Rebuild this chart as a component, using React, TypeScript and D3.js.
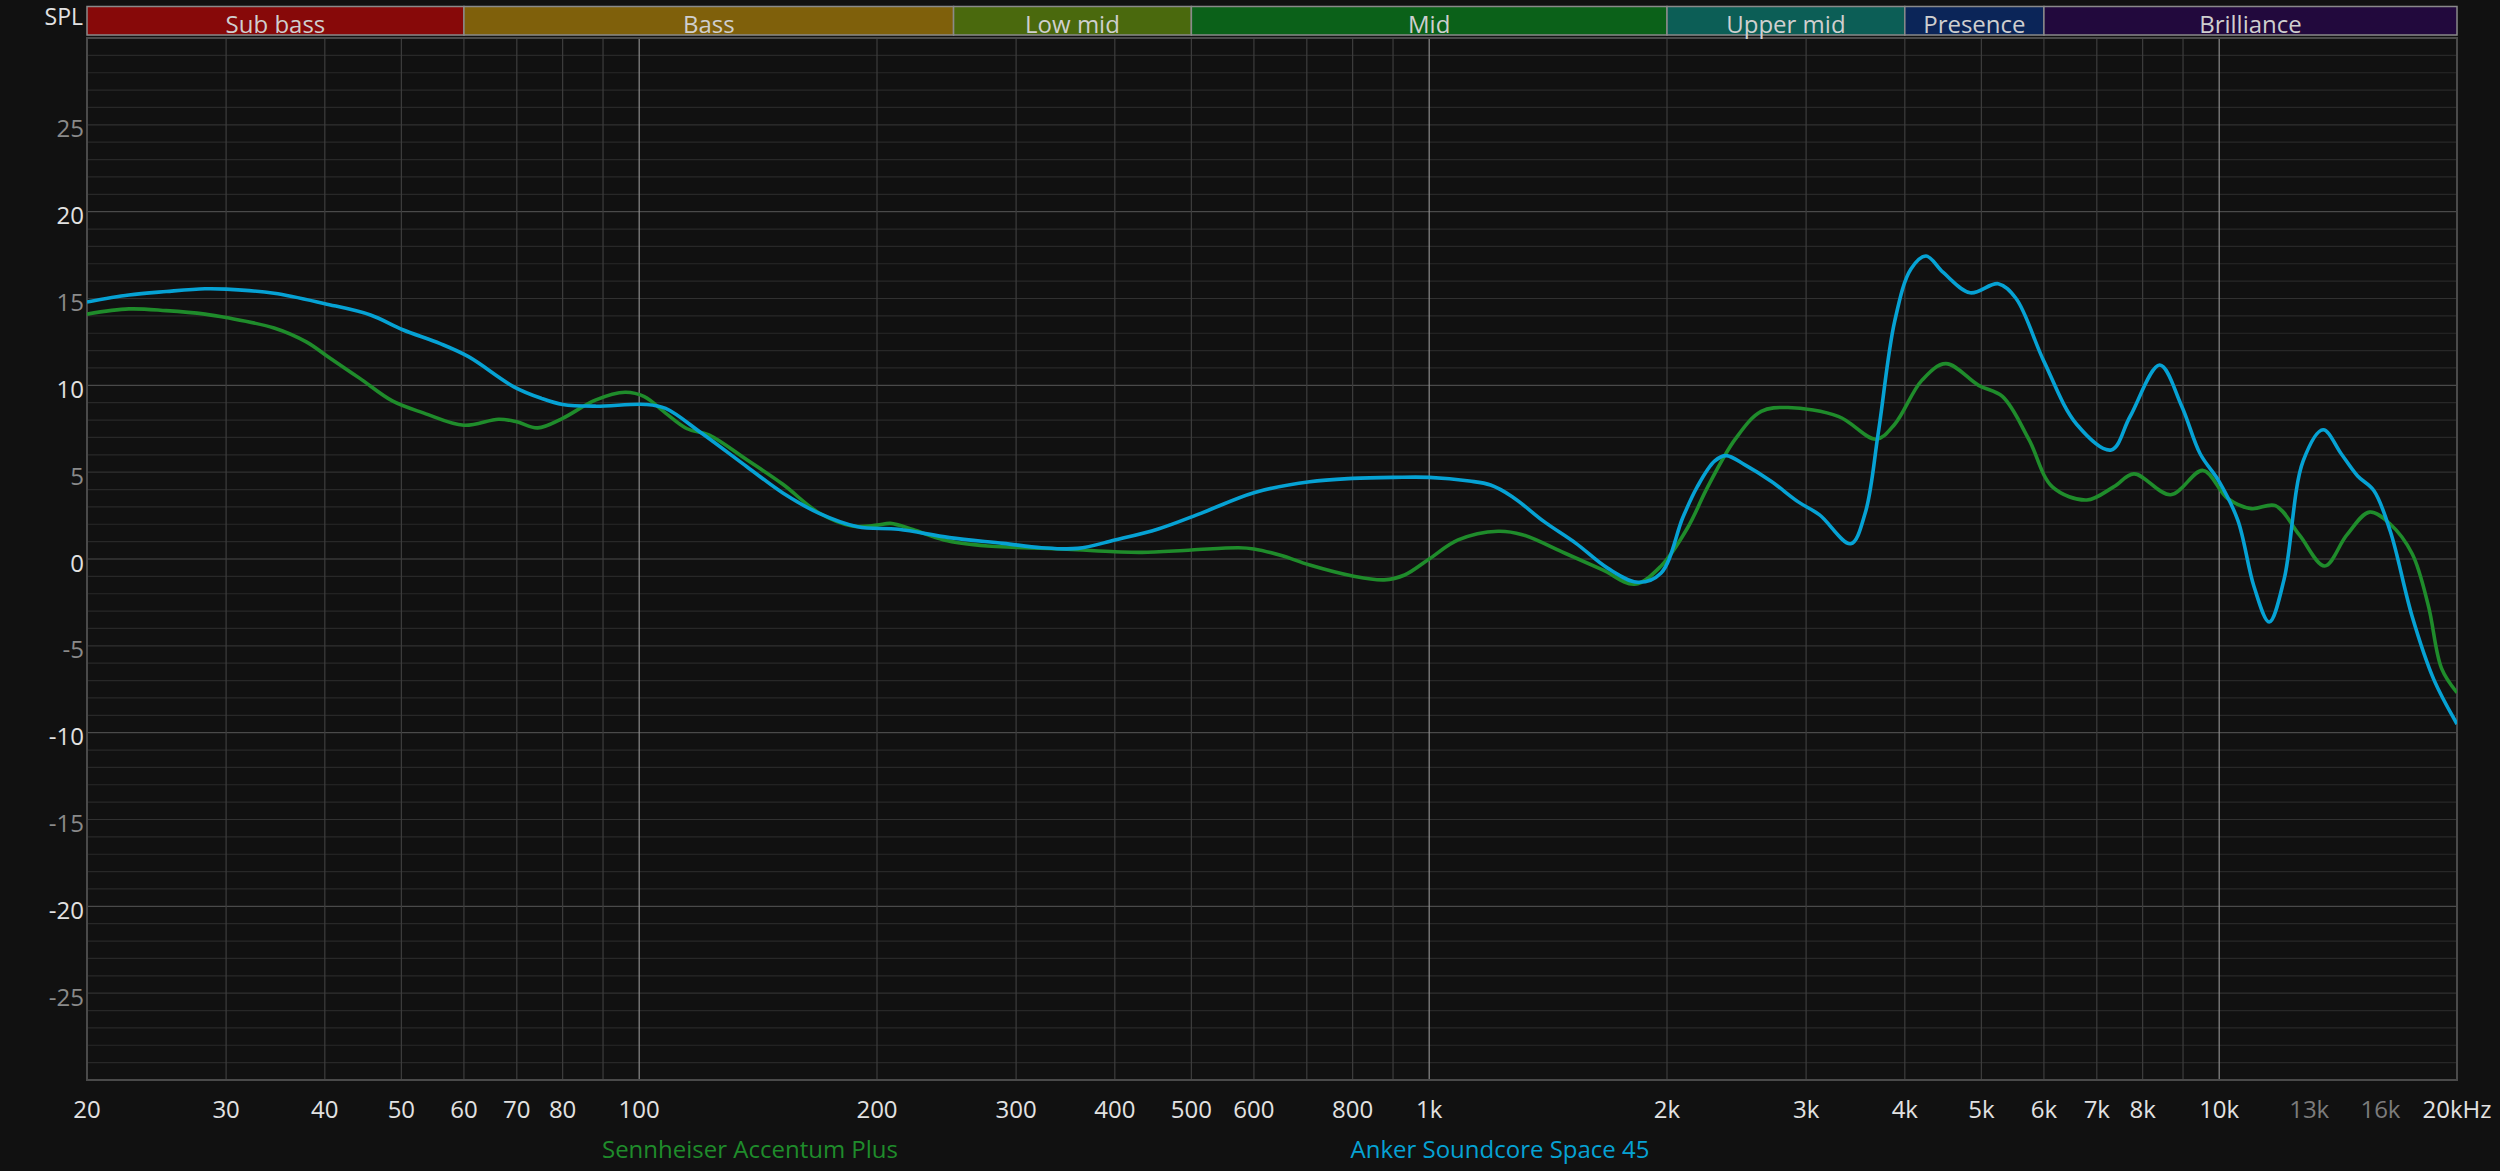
import React from "react";
import * as d3 from "d3";

const W = 2500;
const H = 1171;

const bandNames = ["Sub bass", "Bass", "Low mid", "Mid", "Upper mid", "Presence", "Brilliance"];
const bandEdges = [20, 60, 250, 500, 2000, 4000, 6000, 20000];
const bandColors = ["#870909", "#7f600b", "#4a690d", "#0b6119", "#0c5e56", "#0b2558", "#22093d"];

const xTickValues = [20, 30, 40, 50, 60, 70, 80, 100, 200, 300, 400, 500, 600, 800, 1000, 2000, 3000, 4000, 5000, 6000, 7000, 8000, 10000, 13000, 16000, 20000];
const xTickLabels = ["20", "30", "40", "50", "60", "70", "80", "100", "200", "300", "400", "500", "600", "800", "1k", "2k", "3k", "4k", "5k", "6k", "7k", "8k", "10k", "13k", "16k", "20kHz"];
const xDimTicks = ["13k", "16k"];

const yTickValues = [25, 20, 15, 10, 5, 0, -5, -10, -15, -20, -25];

const seriesNames = ["Sennheiser Accentum Plus", "Anker Soundcore Space 45"];
const seriesColors = ["#1f8c2b", "#06a2d4"];

const sennFreq = [20, 22.6, 25.2, 28.2, 30, 34.5, 37.9, 40.5, 44.3, 48.7, 53.4, 60, 66.4, 70, 74.4, 80, 88, 96, 101.5, 108, 115, 122.5, 137, 152, 169, 186, 200, 208, 222, 243, 276, 300, 348, 400, 433, 500, 574, 600, 650, 706, 800, 877, 931, 1000, 1088, 1222, 1312, 1486, 1658, 1820, 1966, 2124, 2252, 2440, 2632, 2846, 3300, 3680, 3884, 4206, 4508, 4960, 5316, 5740, 6150, 6800, 7350, 7800, 8680, 9540, 10240, 10980, 11780, 12640, 13600, 14500, 15500, 16470, 17550, 18400, 19120, 20000];
const sennDb = [14.1, 14.4, 14.3, 14.1, 13.9, 13.3, 12.5, 11.6, 10.4, 9.1, 8.4, 7.7, 8.05, 7.9, 7.55, 8.1, 9.15, 9.6, 9.35, 8.4, 7.5, 7.15, 5.7, 4.3, 2.65, 1.9, 1.95, 2.05, 1.7, 1.1, 0.75, 0.67, 0.56, 0.42, 0.38, 0.52, 0.65, 0.58, 0.2, -0.35, -0.98, -1.2, -0.92, 0, 1.1, 1.6, 1.4, 0.33, -0.63, -1.45, -0.4, 1.8, 4.15, 6.9, 8.5, 8.72, 8.2, 6.9, 7.76, 10.3, 11.25, 10.0, 9.36, 6.9, 4.15, 3.4, 4.15, 4.9, 3.7, 5.1, 3.5, 2.9, 3.07, 1.37, -0.4, 1.37, 2.7, 2.0, 0.3, -2.7, -6.3, -7.7];

const ankerFreq = [20, 22.6, 25.2, 28.2, 30, 34.5, 40, 45.7, 50.2, 56, 60.8, 69.5, 75.2, 80, 88, 102, 108, 120, 137, 152, 169, 189, 213, 247, 289, 323, 359, 400, 454, 514, 600, 706, 800, 904, 1000, 1124, 1196, 1274, 1398, 1534, 1684, 1838, 1966, 2095, 2184, 2297, 2376, 2510, 2712, 2932, 3120, 3416, 3564, 3704, 3884, 4072, 4256, 4474, 4840, 5252, 5532, 6000, 6600, 7300, 7710, 8410, 8960, 9460, 10000, 10560, 11070, 11570, 12080, 12770, 13540, 14270, 14970, 15700, 16470, 17550, 18690, 20000];
const ankerDb = [14.8, 15.2, 15.4, 15.56, 15.54, 15.3, 14.7, 14.05, 13.2, 12.4, 11.65, 9.9, 9.25, 8.9, 8.8, 8.9, 8.67, 7.24, 5.3, 3.8, 2.63, 1.86, 1.71, 1.23, 0.9, 0.65, 0.61, 1.09, 1.73, 2.63, 3.82, 4.45, 4.64, 4.7, 4.7, 4.49, 4.26, 3.59, 2.15, 0.9, -0.54, -1.34, -0.8, 2.4, 4.15, 5.63, 5.95, 5.42, 4.46, 3.29, 2.54, 0.88, 2.65, 7.33, 13.7, 16.7, 17.45, 16.5, 15.33, 15.85, 15.0, 11.38, 7.76, 6.28, 8.19, 11.17, 8.83, 6.06, 4.46, 2.22, -1.6, -3.63, -1.19, 5.63, 7.44, 6.06, 4.78, 3.93, 1.58, -3.31, -6.93, -9.5];

const FONT = "'Open Sans', 'Noto Sans', sans-serif";

export default function App() {
  const left = 87, right = 2457, top = 38, bottom = 1080;
  const x = d3.scaleLog().domain([20, 20000]).range([left, right]);
  const y = d3.scaleLinear().domain([-30, 30]).range([bottom, top]);

  const vLines: { f: number; color: string }[] = [];
  [10, 100, 1000, 10000].forEach((dec) => {
    for (let m = 1; m <= 9; m++) {
      const f = m * dec;
      if (f <= 20 || f >= 20000) continue;
      let color = "#3d3d3d";
      if (m === 1) color = "#8c8c8c";
      else if (f > 10000) color = "#2a2a2a";
      vLines.push({ f, color });
    }
  });

  const hLines: { v: number; color: string }[] = [];
  for (let v = -29; v <= 29; v++) {
    let color = "#282828";
    if (v % 10 === 0) color = "#4a4a4a";
    else if (v % 5 === 0) color = "#313131";
    hLines.push({ v, color });
  }

  const line = d3
    .line<[number, number]>()
    .x((d) => x(d[0]))
    .y((d) => y(d[1]))
    .curve(d3.curveCatmullRom.alpha(0.5));

  const sennPath = line(sennFreq.map((f, i) => [f, sennDb[i]] as [number, number])) || "";
  const ankerPath = line(ankerFreq.map((f, i) => [f, ankerDb[i]] as [number, number])) || "";

  return (
    <svg width={W} height={H} style={{ position: "absolute", left: 0, top: 0, display: "block" }} fontFamily={FONT}>
      <rect x={0} y={0} width={W} height={H} fill="#111111" />
      <defs>
        <clipPath id="plotClip">
          <rect x={left} y={top} width={right - left} height={bottom - top} />
        </clipPath>
      </defs>

      {hLines.map((h) => (
        <line key={"h" + h.v} x1={left} x2={right} y1={y(h.v)} y2={y(h.v)} stroke={h.color} strokeWidth={1.2} />
      ))}
      {vLines.map((v) => (
        <line key={"v" + v.f} x1={x(v.f)} x2={x(v.f)} y1={top} y2={bottom} stroke={v.color} strokeWidth={1.2} />
      ))}

      <rect x={left} y={top} width={right - left} height={bottom - top} fill="none" stroke="#4a4a4a" strokeWidth={2} />

      {bandNames.map((name, i) => {
        const x0 = x(bandEdges[i]);
        const x1 = x(bandEdges[i + 1]);
        return (
          <g key={name}>
            <rect x={x0} y={6.5} width={x1 - x0} height={28.5} fill={bandColors[i]} stroke="#8a8a8a" strokeWidth={1.5} />
            <text x={(x0 + x1) / 2} y={33} textAnchor="middle" fontSize={24} fill="#cfcfcf">
              {name}
            </text>
          </g>
        );
      })}

      <text x={83} y={25} textAnchor="end" fontSize={23} fill="#e2e2e2">SPL</text>

      {yTickValues.map((v) => (
        <text key={"yl" + v} x={84} y={y(v) + 12.5} textAnchor="end" fontSize={24} fill={v % 10 === 0 ? "#e2e2e2" : "#8a8a8a"}>
          {String(v)}
        </text>
      ))}

      {xTickValues.map((f, i) => (
        <text key={"xl" + f} x={x(f)} y={1118} textAnchor="middle" fontSize={24} fill={xDimTicks.includes(xTickLabels[i]) ? "#7c7c7c" : "#e2e2e2"}>
          {xTickLabels[i]}
        </text>
      ))}

      <g clipPath="url(#plotClip)">
        <path d={sennPath} fill="none" stroke={seriesColors[0]} strokeWidth={3.6} strokeLinejoin="round" />
        <path d={ankerPath} fill="none" stroke={seriesColors[1]} strokeWidth={3.6} strokeLinejoin="round" />
      </g>

      <text x={750} y={1158} textAnchor="middle" fontSize={24} fill={seriesColors[0]}>{seriesNames[0]}</text>
      <text x={1500} y={1158} textAnchor="middle" fontSize={24} fill={seriesColors[1]}>{seriesNames[1]}</text>
    </svg>
  );
}
